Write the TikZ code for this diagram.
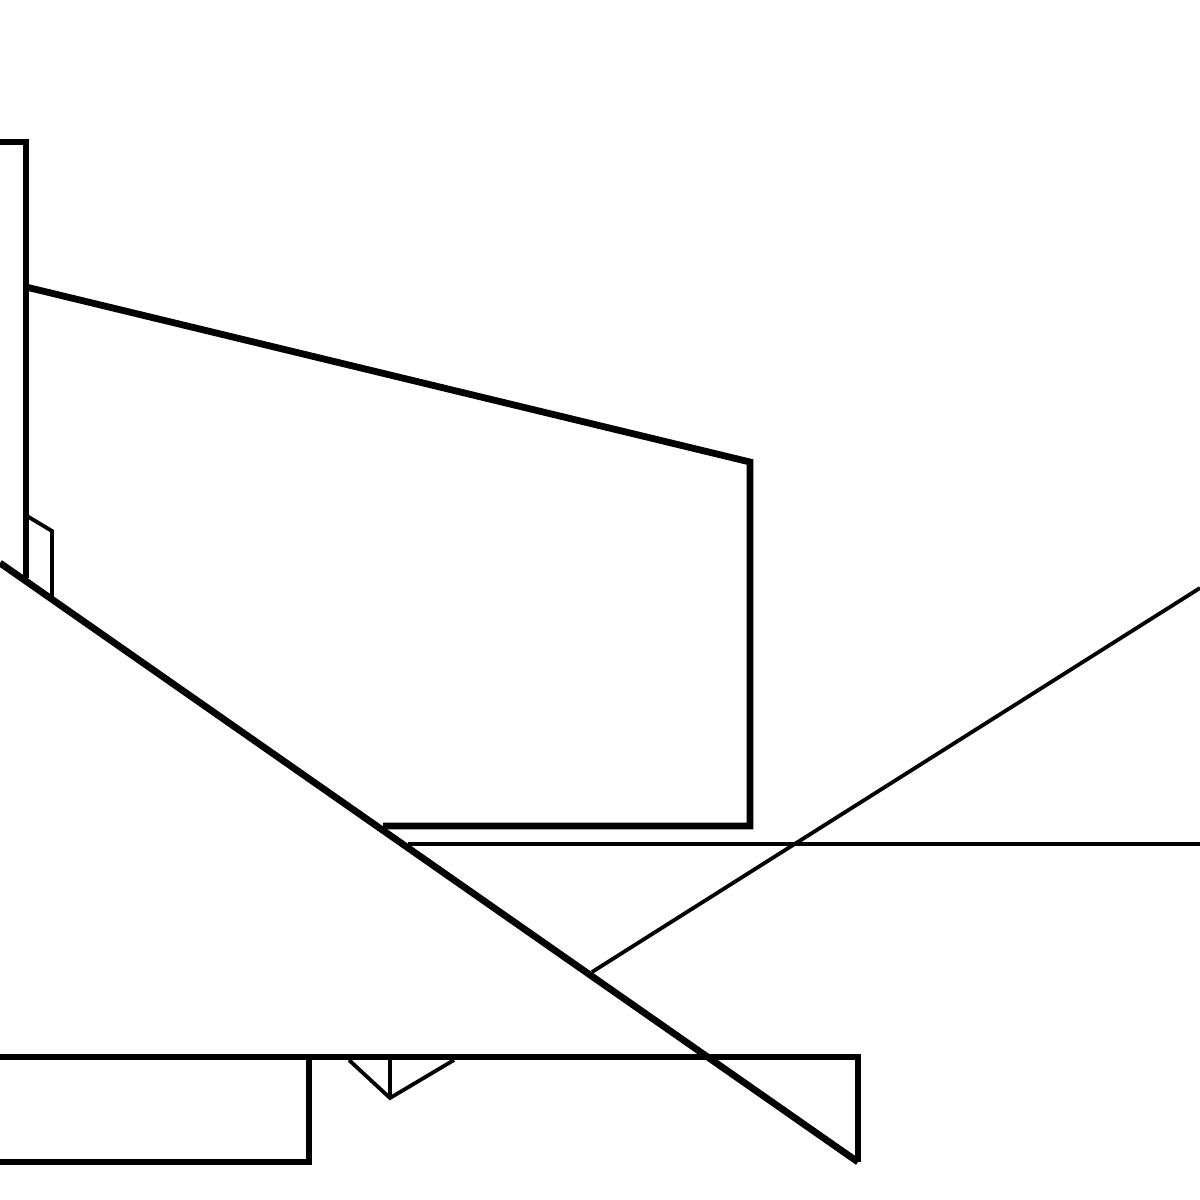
\documentclass[tikz,border=0pt]{standalone}
\begin{document}
\begin{tikzpicture}[x=0.5pt,y=-0.5pt,
  thickln/.style={line width=3.4pt,line join=miter,black},
  thinln/.style={line width=1.9pt,line join=miter,black}]
\useasboundingbox (0,0) rectangle (1200,1200);
% top-left post
\draw[thickln] (0,142) -- (26,142) -- (26,578);
% large polygon
\draw[thickln] (26,287) -- (750,462) -- (750,826) -- (383,826);
% long diagonal
\draw[thickln] (0,563) -- (858,1162);
% small rectangle by the post
\draw[thinln] (27,516) -- (52,531) -- (52,598);
% thin horizontal
\draw[thinln] (408,844) -- (1200,844);
% thin rising line
\draw[thinln] (592,972) -- (1200,588);
% bottom shapes
\draw[thickln] (0,1057) -- (858,1057) -- (858,1162);
\draw[thickln] (0,1162) -- (309,1162) -- (309,1057);
% small triangle
\draw[thinln] (349,1060) -- (390,1098) -- (454,1060);
\draw[thinln] (390,1060) -- (390,1098);
\end{tikzpicture}
\end{document}
